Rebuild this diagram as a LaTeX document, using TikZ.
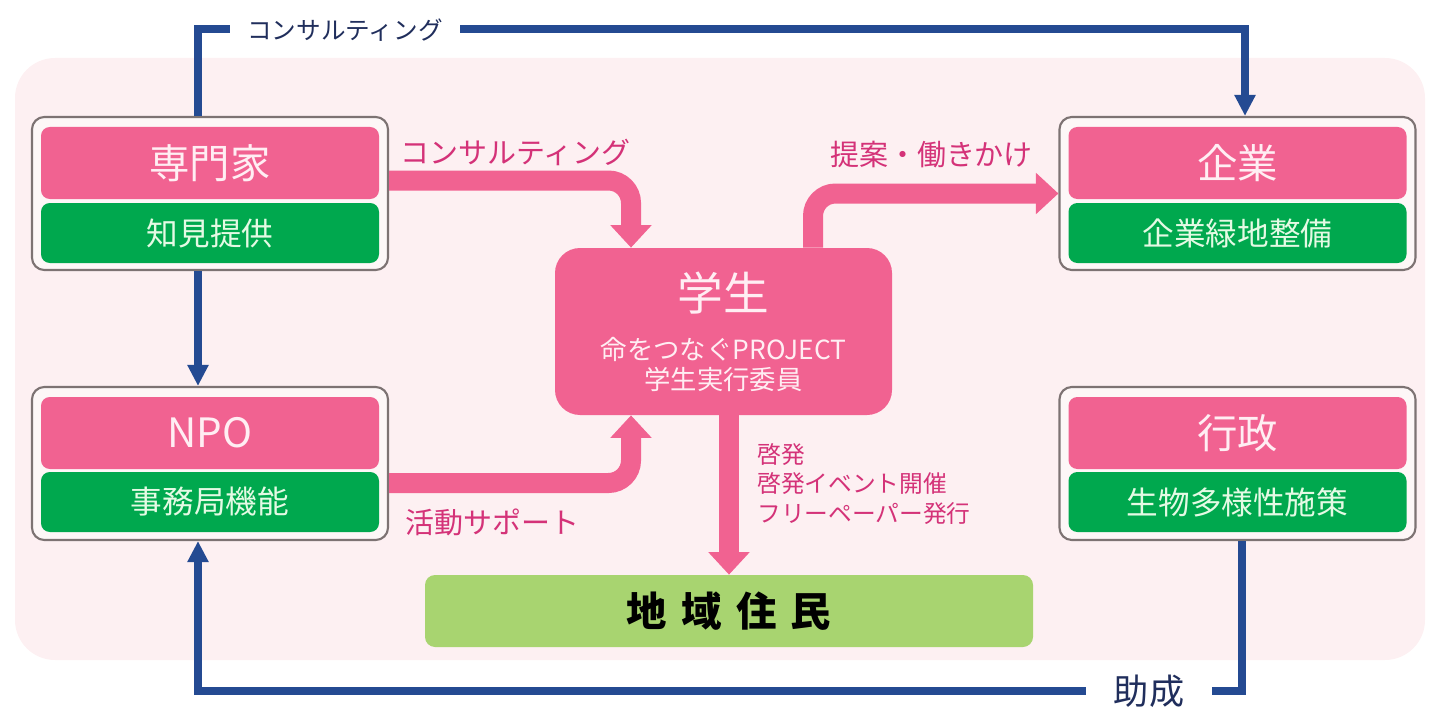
\documentclass[tikz,border=0pt]{standalone}
\usepackage{fontspec}
\newfontfamily\jpfont{Noto Sans CJK JP}
\usetikzlibrary{arrows.meta,positioning}
\definecolor{bgpink}{RGB}{253,240,242}
\definecolor{framefill}{RGB}{253,247,247}
\definecolor{framegray}{RGB}{125,115,115}
\definecolor{pinkbox}{RGB}{241,98,145}
\definecolor{pinktext}{RGB}{255,238,243}
\definecolor{greenbox}{RGB}{0,168,78}
\definecolor{greentext}{RGB}{228,250,228}
\definecolor{residentgreen}{RGB}{168,212,112}
\definecolor{bluelink}{RGB}{36,74,146}
\definecolor{labelpink}{RGB}{212,50,120}
\definecolor{navytext}{RGB}{32,46,92}
\begin{document}
\begin{tikzpicture}[every node/.style={font=\jpfont},
  grpframe/.style={draw=framegray,line width=1.2pt,fill=framefill,rounded corners=7pt,minimum width=7.12cm,minimum height=3.06cm},
  titlebox/.style={fill=pinkbox,text=pinktext,rounded corners=5pt,minimum width=6.76cm,minimum height=1.44cm,font=\jpfont\fontsize{23}{26}\selectfont},
  rolebox/.style={fill=greenbox,text=greentext,rounded corners=5pt,minimum width=6.76cm,minimum height=1.2cm,font=\jpfont\fontsize{18}{21}\selectfont},
  flow/.style={line width=0.4cm,draw=pinkbox,rounded corners=0.45cm,-{Triangle[width=0.8cm,length=0.45cm]}},
  link/.style={line width=0.15cm,draw=bluelink,-{Triangle[width=0.4cm,length=0.42cm]}},
  flowlabel/.style={text=labelpink,font=\jpfont\fontsize{16.5}{19}\selectfont,inner sep=0pt},
  linklabel/.style={fill=white,text=navytext,inner ysep=1pt}]
  \useasboundingbox (0,0) rectangle (28.68,14.16);
  \fill[bgpink,rounded corners=0.8cm] (0.3,0.96) rectangle (28.5,13.0);
  % actors
  \node[grpframe] (expert) at (4.2,10.29) {};
  \node[titlebox] (expertT) at (4.2,10.9) {専門家};
  \node[rolebox] (expertR) at (4.2,9.5) {知見提供};
  \node[grpframe] (npo) at (4.2,4.89) {};
  \node[titlebox] (npoT) at (4.2,5.5) {NPO};
  \node[rolebox] (npoR) at (4.2,4.12) {事務局機能};
  \node[grpframe] (company) at (24.75,10.29) {};
  \node[titlebox] (companyT) at (24.75,10.9) {企業};
  \node[rolebox] (companyR) at (24.75,9.5) {企業緑地整備};
  \node[grpframe] (admin) at (24.75,4.89) {};
  \node[titlebox] (adminT) at (24.75,5.5) {行政};
  \node[rolebox] (adminR) at (24.75,4.12) {生物多様性施策};
  \node[fill=pinkbox,text=pinktext,rounded corners=0.5cm,minimum width=6.74cm,minimum height=3.34cm,align=center,font=\jpfont\fontsize{15}{17}\selectfont] (student) at (14.47,7.53) {{\fontsize{26}{30}\selectfont 学生}\\[11pt]命をつなぐPROJECT\\学生実行委員};
  \node[fill=residentgreen,rounded corners=0.2cm,minimum width=12.16cm,minimum height=1.44cm,font=\jpfont\bfseries\fontsize{23}{26}\selectfont] (residents) at (14.58,1.94) {地\hspace{0.35em}域\hspace{0.35em}住\hspace{0.35em}民};
  % pink flows
  \draw[flow] ([yshift=0.26cm]expert.east) -| ([xshift=-1.85cm]student.north);
  \draw[flow] ([yshift=-0.39cm]npo.east) -| ([xshift=-1.85cm]student.south);
  \draw[flow] ([xshift=1.79cm]student.north) |- (company.west);
  \draw[flow] (student.south -| residents.north) -- (residents.north);
  \node[flowlabel,anchor=west] (consultL) at (8.0,11.12) {コンサルティング};
  \node[flowlabel,anchor=west] (supportL) at (8.1,3.72) {活動サポート};
  \node[flowlabel] (proposalL) at (18.63,11.06) {提案・働きかけ};
  \node[flowlabel,font=\jpfont\fontsize{13.5}{17}\selectfont,align=left,anchor=west] (awareL) at (15.14,4.48) {啓発\\啓発イベント開催\\フリーペーパー発行};
  % blue links
  \draw[link] ([xshift=-0.24cm]expert.north) -- ++(0,1.74) -| ([xshift=0.15cm]company.north);
  \draw[link] ([xshift=-0.24cm]expert.south) -- ([xshift=-0.24cm]npo.north);
  \draw[link] ([xshift=0.09cm]admin.south) -- ++(0,-3.0) -| ([xshift=-0.24cm]npo.south);
  \node[linklabel,font=\jpfont\fontsize{14}{16}\selectfont,inner xsep=0.35cm] (consultTop) at (6.9,13.56) {コンサルティング};
  \node[linklabel,font=\jpfont\fontsize{20}{22}\selectfont,inner xsep=0.55cm] (subsidyL) at (22.98,0.34) {助成};
\end{tikzpicture}
\end{document}
